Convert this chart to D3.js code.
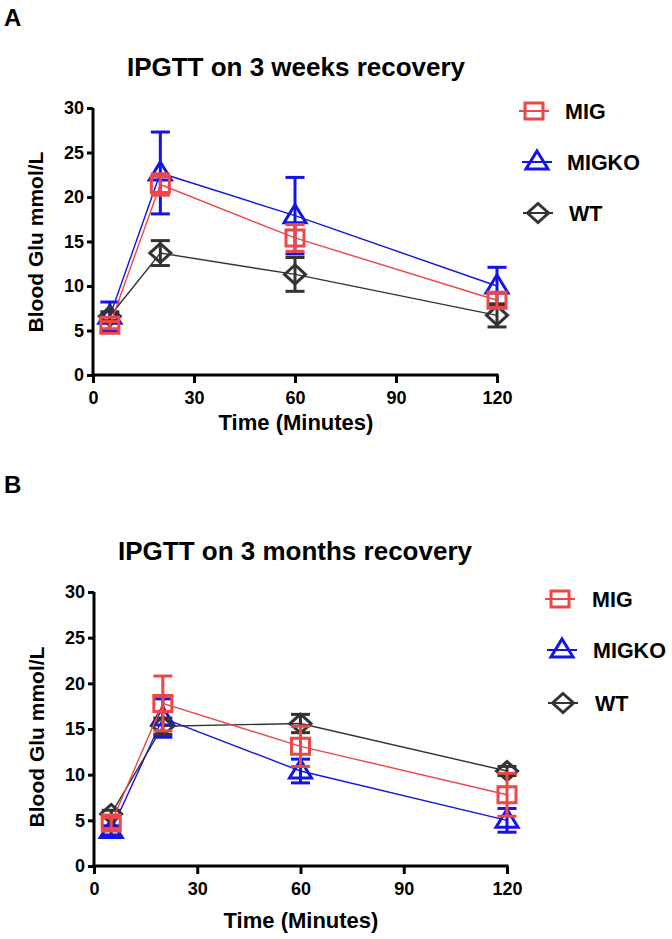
<!DOCTYPE html>
<html>
<head>
<meta charset="utf-8">
<script src="https://cdn.jsdelivr.net/npm/d3@7"></script>
<style>
  html, body { margin: 0; padding: 0; background: #fff; }
  svg { display: block; }
  text { font-family: "Liberation Sans", Arial, sans-serif; font-weight: bold; fill: #000; }
</style>
</head>
<body>
<svg id="chart" width="672" height="939"></svg>
<script>
// ---- data ----
const times = [5, 20, 60, 120];
const xTicks = [0, 30, 60, 90, 120];
const yTicks = [0, 5, 10, 15, 20, 25, 30];
const seriesNames = ["MIG", "MIGKO", "WT"];

// Panel A: 3 weeks recovery
const migA = [5.6, 21.4, 15.4, 8.4];
const migA_sem = [0.4, 1.2, 1.5, 0.8];
const migkoA = [6.6, 22.7, 17.9, 10.0];
const migkoA_sem = [1.6, 4.6, 4.3, 2.1];
const wtA = [6.6, 13.7, 11.3, 6.7];
const wtA_sem = [0.5, 1.4, 1.9, 1.3];

// Panel B: 3 months recovery
const migB = [4.7, 17.8, 13.1, 7.8];
const migB_sem = [0.6, 3.0, 2.2, 2.35];
const migkoB = [3.9, 16.2, 10.4, 5.0];
const migkoB_sem = [0.5, 2.1, 1.3, 1.3];
const wtB = [5.7, 15.3, 15.6, 10.4];
const wtB_sem = [0.4, 0.9, 1.0, 0.5];

// ---- styling ----
const colors = { MIG: "#ef4646", MIGKO: "#1414e6", WT: "#333333" };

function markerPath(name) {
  if (name === "MIG") { return "M-9,-8H9V8H-9Z"; }
  if (name === "MIGKO") { return "M0,-11L11,7L-11,7Z"; }
  return "M0,-9.5L10.5,0L0,9.5L-10.5,0Z";
}

const svg = d3.select("#chart");

function drawPanel(cfg) {
  const g = svg.append("g");
  const x = d3.scaleLinear().domain([0, 120]).range([cfg.x0, cfg.x1]);
  const y = d3.scaleLinear().domain([0, 30]).range([cfg.y0, cfg.y1]);

  // panel letter
  g.append("text").attr("x", 4).attr("y", cfg.letterY).attr("font-size", 24).text(cfg.letter);
  // title
  g.append("text").attr("x", cfg.titleX).attr("y", cfg.titleY).attr("text-anchor", "middle")
    .attr("font-size", 26).text(cfg.title);

  // axes
  const ya = g.append("g").attr("transform", `translate(${cfg.x0},0)`)
    .call(d3.axisLeft(y).tickValues(yTicks).tickSize(6).tickSizeOuter(0).tickPadding(3));
  const xa = g.append("g").attr("transform", `translate(0,${cfg.y0})`)
    .call(d3.axisBottom(x).tickValues(xTicks).tickSize(8).tickSizeOuter(0).tickPadding(8));
  [ya, xa].forEach(a => {
    a.select(".domain").attr("stroke", "#000").attr("stroke-width", 3);
    a.selectAll(".tick line").attr("stroke", "#000").attr("stroke-width", 3);
    a.selectAll(".tick text").attr("font-size", 18).attr("font-family", "Liberation Sans, Arial, sans-serif")
      .attr("font-weight", "bold").attr("fill", "#000");
  });
  // extend axis domains to meet at the corner
  xa.select(".domain").attr("d", `M${cfg.x0 - 1.5},0H${cfg.x1 + 1.5}`);
  ya.select(".domain").attr("d", `M0,${cfg.y1}V${cfg.y0 + 1.5}`);

  // axis titles
  g.append("text").attr("transform", `translate(${cfg.ylabX},${cfg.ylabY}) rotate(-90)`)
    .attr("text-anchor", "middle").attr("font-size", 21).text("Blood Glu mmol/L");
  g.append("text").attr("x", cfg.xlabX).attr("y", cfg.xlabY)
    .attr("text-anchor", "middle").attr("font-size", 22).text("Time (Minutes)");

  const line = d3.line().x(d => x(d.t)).y(d => y(d.v));

  const order = ["MIGKO", "WT", "MIG"];
  order.forEach(name => {
    const s = cfg.series[name];
    const pts = times.map((t, i) => ({ t, v: s.v[i], e: s.e[i] }));
    const col = colors[name];
    const sg = g.append("g");
    sg.append("path").datum(pts).attr("d", line).attr("fill", "none")
      .attr("stroke", col).attr("stroke-width", 1.4);
    // error bars
    const eb = sg.selectAll(".eb").data(pts).enter().append("g");
    eb.append("line").attr("x1", d => x(d.t)).attr("x2", d => x(d.t))
      .attr("y1", d => y(d.v + d.e)).attr("y2", d => y(d.v - d.e))
      .attr("stroke", col).attr("stroke-width", 3);
    [1, -1].forEach(sign => {
      eb.append("line").attr("x1", d => x(d.t) - 9.5).attr("x2", d => x(d.t) + 9.5)
        .attr("y1", d => y(d.v + sign * d.e)).attr("y2", d => y(d.v + sign * d.e))
        .attr("stroke", col).attr("stroke-width", 3);
    });
    // markers
    sg.selectAll(".mk").data(pts).enter().append("path")
      .attr("transform", d => `translate(${x(d.t)},${y(d.v)})`)
      .attr("d", markerPath(name)).attr("fill", "none")
      .attr("stroke", col).attr("stroke-width", 3).attr("stroke-linejoin", "miter");
  });

  // legend
  seriesNames.forEach((name, i) => {
    const L = cfg.legend[i];
    const col = colors[name];
    g.append("line").attr("x1", L.sx - 15).attr("x2", L.sx + 15).attr("y1", L.sy).attr("y2", L.sy)
      .attr("stroke", col).attr("stroke-width", 2);
    g.append("path").attr("transform", `translate(${L.sx},${L.sy})`).attr("d", markerPath(name))
      .attr("fill", "none").attr("stroke", col).attr("stroke-width", 3);
    g.append("text").attr("x", L.tx).attr("y", L.sy + 7.5).attr("font-size", 21.5).text(name);
  });
}

drawPanel({
  letter: "A", letterY: 26,
  title: "IPGTT on 3 weeks recovery", titleX: 296, titleY: 76,
  x0: 93, x1: 497, y0: 375, y1: 108,
  ylabX: 43, ylabY: 242, xlabX: 296, xlabY: 430,
  series: {
    MIG: { v: migA, e: migA_sem },
    MIGKO: { v: migkoA, e: migkoA_sem },
    WT: { v: wtA, e: wtA_sem }
  },
  legend: [
    { sx: 534, sy: 111, tx: 565 },
    { sx: 537, sy: 162, tx: 567 },
    { sx: 538, sy: 213, tx: 569 }
  ]
});

drawPanel({
  letter: "B", letterY: 493,
  title: "IPGTT on 3 months recovery", titleX: 295, titleY: 560,
  x0: 94, x1: 507, y0: 866, y1: 592,
  ylabX: 44, ylabY: 737, xlabX: 301, xlabY: 928,
  series: {
    MIG: { v: migB, e: migB_sem },
    MIGKO: { v: migkoB, e: migkoB_sem },
    WT: { v: wtB, e: wtB_sem }
  },
  legend: [
    { sx: 560, sy: 599, tx: 592 },
    { sx: 562, sy: 650, tx: 593 },
    { sx: 563, sy: 703, tx: 595 }
  ]
});
</script>
</body>
</html>
